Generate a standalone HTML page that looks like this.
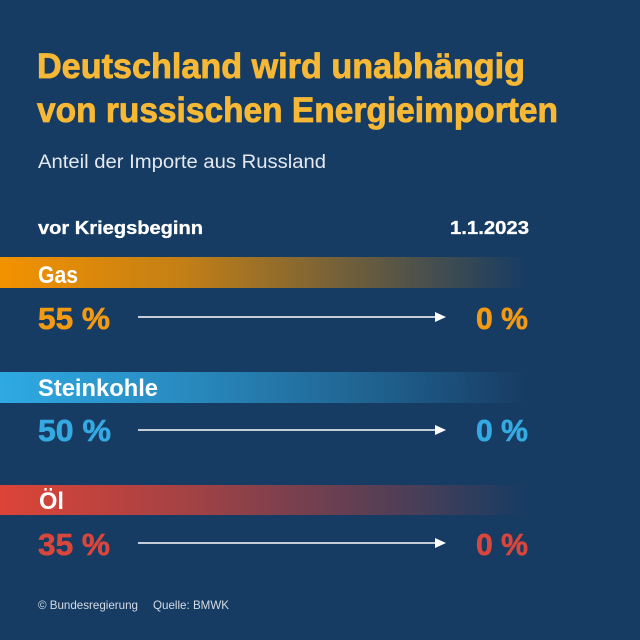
<!DOCTYPE html>
<html>
<head>
<meta charset="utf-8">
<style>
  html,body{margin:0;padding:0;background:#173c63;}
  svg{display:block;}
  text{font-family:"Liberation Sans",sans-serif;}
</style>
</head>
<body>
<svg width="640" height="640" viewBox="0 0 640 640" xmlns="http://www.w3.org/2000/svg">
  <defs>
    <linearGradient id="gOr" x1="0" y1="0" x2="1" y2="0">
      <stop offset="0" stop-color="#f39200" stop-opacity="1"/>
      <stop offset="0.35" stop-color="#f39200" stop-opacity="0.78"/>
      <stop offset="0.75" stop-color="#f39200" stop-opacity="0.3"/>
      <stop offset="1" stop-color="#f39200" stop-opacity="0"/>
    </linearGradient>
    <linearGradient id="gBl" x1="0" y1="0" x2="1" y2="0">
      <stop offset="0" stop-color="#2fa9e3" stop-opacity="1"/>
      <stop offset="0.35" stop-color="#2fa9e3" stop-opacity="0.72"/>
      <stop offset="0.75" stop-color="#2fa9e3" stop-opacity="0.3"/>
      <stop offset="1" stop-color="#2fa9e3" stop-opacity="0"/>
    </linearGradient>
    <linearGradient id="gRd" x1="0" y1="0" x2="1" y2="0">
      <stop offset="0" stop-color="#dc4438" stop-opacity="1"/>
      <stop offset="0.35" stop-color="#dc4438" stop-opacity="0.72"/>
      <stop offset="0.75" stop-color="#dc4438" stop-opacity="0.3"/>
      <stop offset="1" stop-color="#dc4438" stop-opacity="0"/>
    </linearGradient>
  </defs>
  <rect width="640" height="640" fill="#173c63"/>

  <!-- Title -->
  <text x="37" y="78" font-size="35" font-weight="bold" fill="#f7b835" stroke="#f7b835" stroke-width="0.8" textLength="488" lengthAdjust="spacingAndGlyphs">Deutschland wird unabhängig</text>
  <text x="37" y="122" font-size="35" font-weight="bold" fill="#f7b835" stroke="#f7b835" stroke-width="0.8" textLength="521" lengthAdjust="spacingAndGlyphs">von russischen Energieimporten</text>

  <!-- Subtitle -->
  <text x="38" y="168" font-size="19" fill="#e4e9f0" textLength="288" lengthAdjust="spacingAndGlyphs">Anteil der Importe aus Russland</text>

  <!-- Column headers -->
  <text x="38" y="234" font-size="18" font-weight="bold" fill="#ffffff" stroke="#ffffff" stroke-width="0.3" textLength="165" lengthAdjust="spacingAndGlyphs">vor Kriegsbeginn</text>
  <text x="450" y="234" font-size="18" font-weight="bold" fill="#ffffff" stroke="#ffffff" stroke-width="0.3" textLength="79" lengthAdjust="spacingAndGlyphs">1.1.2023</text>

  <!-- Gas -->
  <rect x="0" y="257" width="526" height="31" fill="url(#gOr)"/>
  <text x="38" y="283" font-size="24" font-weight="bold" fill="#ffffff" textLength="40" lengthAdjust="spacingAndGlyphs">Gas</text>
  <text x="38" y="329" font-size="31" font-weight="bold" fill="#f39a12" stroke="#f39a12" stroke-width="0.6" textLength="72" lengthAdjust="spacingAndGlyphs">55 %</text>
  <line x1="138" y1="317" x2="437" y2="317" stroke="#ffffff" stroke-width="1.5"/>
  <polygon points="435,312 446,317 435,322" fill="#ffffff"/>
  <text x="476" y="329" font-size="31" font-weight="bold" fill="#f39a12" stroke="#f39a12" stroke-width="0.6" textLength="52" lengthAdjust="spacingAndGlyphs">0 %</text>

  <!-- Steinkohle -->
  <rect x="0" y="372" width="526" height="31" fill="url(#gBl)"/>
  <text x="38" y="396" font-size="24" font-weight="bold" fill="#ffffff" textLength="120" lengthAdjust="spacingAndGlyphs">Steinkohle</text>
  <text x="38" y="441" font-size="31" font-weight="bold" fill="#35aae2" stroke="#35aae2" stroke-width="0.6" textLength="73" lengthAdjust="spacingAndGlyphs">50 %</text>
  <line x1="138" y1="430" x2="437" y2="430" stroke="#ffffff" stroke-width="1.5"/>
  <polygon points="435,425 446,430 435,435" fill="#ffffff"/>
  <text x="476" y="441" font-size="31" font-weight="bold" fill="#35aae2" stroke="#35aae2" stroke-width="0.6" textLength="52" lengthAdjust="spacingAndGlyphs">0 %</text>

  <!-- Öl -->
  <rect x="0" y="485" width="526" height="30" fill="url(#gRd)"/>
  <text x="39" y="509" font-size="24" font-weight="bold" fill="#ffffff" textLength="25" lengthAdjust="spacingAndGlyphs">Öl</text>
  <text x="38" y="555" font-size="31" font-weight="bold" fill="#d9463c" stroke="#d9463c" stroke-width="0.6" textLength="72" lengthAdjust="spacingAndGlyphs">35 %</text>
  <line x1="138" y1="543" x2="437" y2="543" stroke="#ffffff" stroke-width="1.5"/>
  <polygon points="435,538 446,543 435,548" fill="#ffffff"/>
  <text x="476" y="555" font-size="31" font-weight="bold" fill="#d9463c" stroke="#d9463c" stroke-width="0.6" textLength="52" lengthAdjust="spacingAndGlyphs">0 %</text>

  <!-- Footer -->
  <text x="38" y="609" font-size="12" fill="#d3dbe5" textLength="100" lengthAdjust="spacingAndGlyphs">© Bundesregierung</text>
  <text x="153" y="609" font-size="12" fill="#d3dbe5" textLength="76" lengthAdjust="spacingAndGlyphs">Quelle: BMWK</text>
</svg>
</body>
</html>
